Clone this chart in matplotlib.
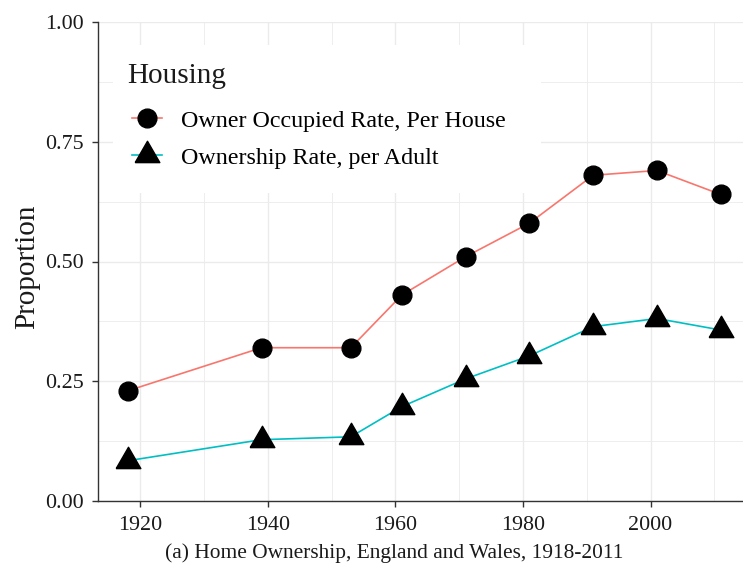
import numpy as np
import matplotlib.pyplot as plt
from matplotlib.patches import Rectangle
from matplotlib.ticker import FixedLocator

plt.rcParams['font.family'] = ['Liberation Serif', 'DejaVu Serif']

years = [1918, 1939, 1953, 1961, 1971, 1981, 1991, 2001, 2011]
owner_occupied = [0.23, 0.32, 0.32, 0.43, 0.51, 0.58, 0.68, 0.69, 0.64]
ownership_adult = [0.084, 0.128, 0.134, 0.197, 0.255, 0.303, 0.364, 0.381, 0.357]

series_labels = ['Owner Occupied Rate, Per House', 'Ownership Rate, per Adult']
line_colors = ['#F8766D', '#00BFC4']

x_ticks = [1920, 1940, 1960, 1980, 2000]
x_minor = [1930, 1950, 1970, 1990, 2010]
y_ticks = [0.0, 0.25, 0.5, 0.75, 1.0]
y_tick_labels = ['0.00', '0.25', '0.50', '0.75', '1.00']
y_minor = [0.125, 0.375, 0.625, 0.875]

# equilateral triangle like ggplot shape 17
tri = [(-0.5, -0.2887), (0.5, -0.2887), (0.0, 0.5774), (-0.5, -0.2887)]

W, H = 743, 575
fig = plt.figure(figsize=(W / 100, H / 100), dpi=100)
ax = fig.add_axes([98 / W, 1 - 501 / H, 1 - 98 / W, (501 - 22) / H])

ax.plot(years, owner_occupied, color=line_colors[0], lw=1.2, marker='o',
        ms=13.5, mfc='black', mec='black', label=series_labels[0], zorder=3)
ax.plot(years, ownership_adult, color=line_colors[1], lw=1.2, marker=tri,
        ms=20.5, mfc='black', mec='black', label=series_labels[1], zorder=3)

ax.set_ylim(0, 1)
ax.set_xlim(1913.35, 2014.5)
ax.xaxis.set_major_locator(FixedLocator(x_ticks))
ax.xaxis.set_minor_locator(FixedLocator(x_minor))
ax.yaxis.set_major_locator(FixedLocator(y_ticks))
ax.yaxis.set_minor_locator(FixedLocator(y_minor))
ax.set_yticklabels(y_tick_labels)

ax.grid(which='major', color='#EBEBEB', lw=1.0)
ax.grid(which='minor', color='#EBEBEB', lw=0.6)
ax.set_axisbelow(True)

for s in ['top', 'right']:
    ax.spines[s].set_visible(False)
for s in ['left', 'bottom']:
    ax.spines[s].set_color('#333333')
    ax.spines[s].set_linewidth(1.0)

ax.tick_params(which='major', length=4.5, width=1.0, color='#333333',
               labelsize=15.8, labelcolor='#1a1a1a')
ax.tick_params(axis='y', pad=6)
ax.tick_params(axis='x', pad=6)
ax.tick_params(which='minor', length=0)

# white legend background (pixel box from the reference)
ax.add_patch(Rectangle((113 / W, 1 - 193 / H), (541 - 113) / W, (193 - 45) / H,
                       transform=fig.transFigure, facecolor='white',
                       edgecolor='none', zorder=1))

fig.text(127 / W, 1 - 83 / H, 'Housing', ha='left', va='baseline',
         fontsize=21, color='#1a1a1a')

leg = ax.legend(loc='upper left', bbox_to_anchor=(132 / W, 1 - 110 / H),
                bbox_transform=fig.transFigure,
                fontsize=17.3, frameon=False,
                handlelength=1.25, handletextpad=0.8, labelspacing=0.62,
                borderpad=0, borderaxespad=0)

fig.text(27 / W, 1 - 267 / H, 'Proportion', rotation=90, ha='center',
         va='center', fontsize=21, color='#1a1a1a')
fig.text(394 / W, 1 - 553 / H,
         '(a) Home Ownership, England and Wales, 1918-2011',
         ha='center', va='center', fontsize=15.4, color='#1a1a1a')

fig.savefig('out.png', dpi=100)
